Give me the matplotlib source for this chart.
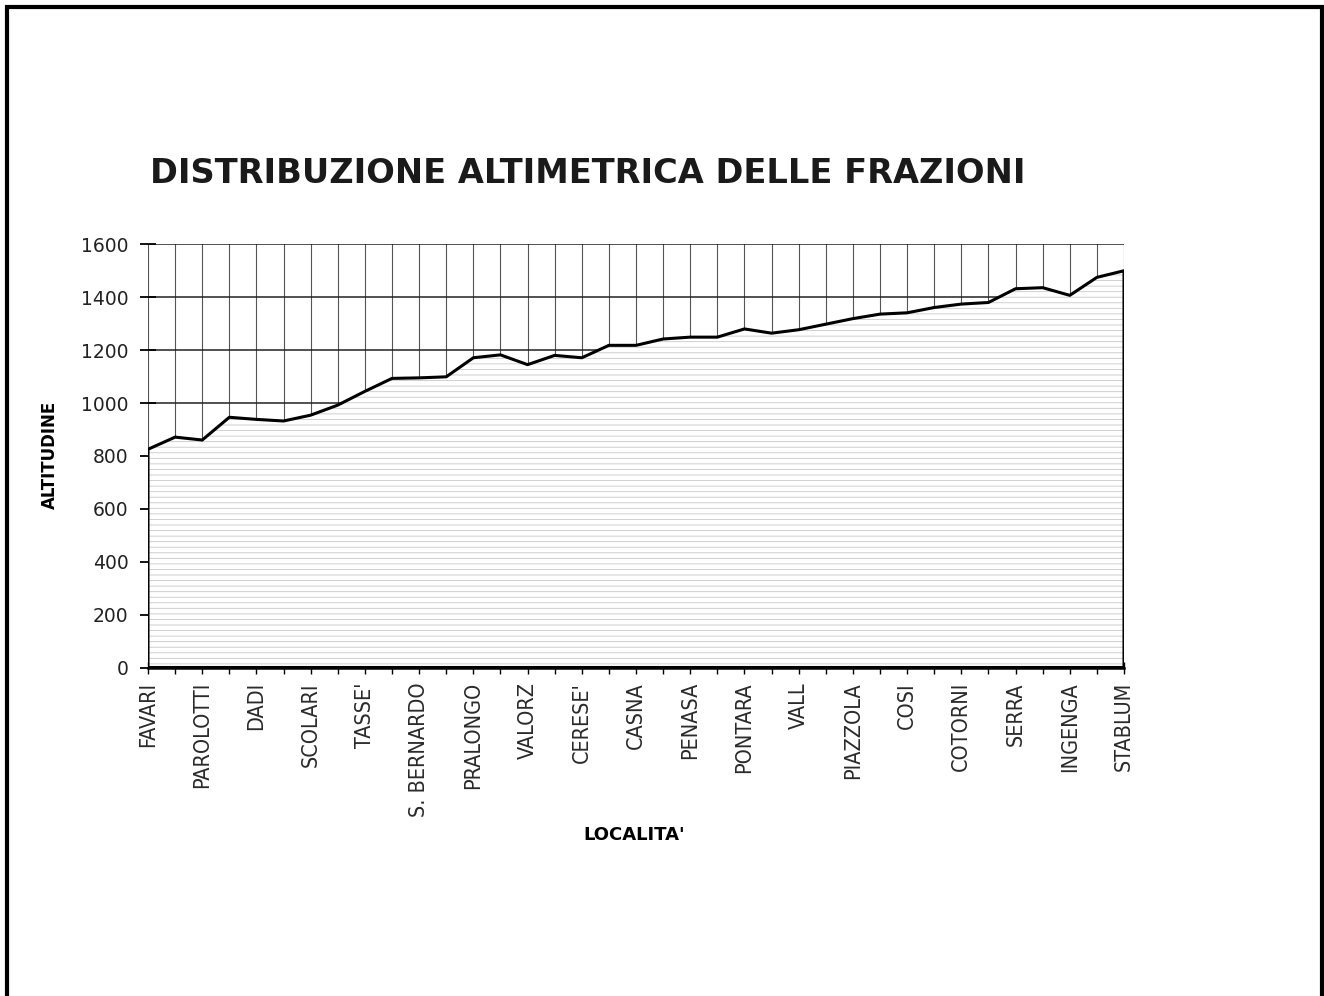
import numpy as np
import matplotlib.pyplot as plt
from matplotlib.patches import Rectangle

plt.rcParams['font.family'] = ['DejaVu Sans']
plt.rcParams['hatch.linewidth'] = 0.6

# localita' (solo quelle etichettate nel grafico, le altre senza nome)
localita = ['FAVARI', '', 'PAROLOTTI', '', 'DADI', '', 'SCOLARI', '', "TASSE'", '',
            'S. BERNARDO', '', 'PRALONGO', '', 'VALORZ', '', "CERESE'", '', 'CASNA', '',
            'PENASA', '', 'PONTARA', '', 'VALL', '', 'PIAZZOLA', '', 'COSI', '',
            'COTORNI', '', 'SERRA', '', 'INGENGA', '', 'STABLUM']

# altitudine (m)
altitudine = [825, 871, 860, 946, 938, 932, 954, 992, 1044, 1093,
              1095, 1099, 1171, 1182, 1145, 1180, 1171, 1218, 1218, 1242,
              1249, 1249, 1280, 1264, 1277, 1298, 1319, 1336, 1341, 1361,
              1374, 1380, 1432, 1436, 1407, 1475, 1500]

y_ticks = [0, 200, 400, 600, 800, 1000, 1200, 1400, 1600]

x = np.arange(len(altitudine))

fig = plt.figure(figsize=(13.24, 9.96), dpi=100)
ax = fig.add_axes([148 / 1324, 1 - 667.5 / 996, 976 / 1324, 423.2 / 996])

# griglia
for xi in x:
    ax.axvline(xi, color='#555555', lw=0.8, zorder=1)
for yt in y_ticks[1:]:
    ax.axhline(yt, color='#222222', lw=1.1, zorder=1)

# area con tratteggio orizzontale leggero
ax.fill_between(x, 0, altitudine, facecolor='white', edgecolor='#c8c8c8',
                hatch='---', linewidth=0, zorder=2)
ax.fill_between(x, 0, altitudine, facecolor='none', edgecolor='black',
                linewidth=2.2, zorder=3)

ax.set_xlim(0, len(altitudine) - 1)
ax.set_ylim(0, 1600)
for s in ['top', 'right', 'left']:
    ax.spines[s].set_visible(False)
ax.spines['bottom'].set_linewidth(1.8)

ax.set_yticks(y_ticks)
ax.set_yticklabels([str(v) for v in y_ticks], fontsize=13.5, color='#222222')
ax.tick_params(axis='y', direction='inout', length=12, width=1.3, pad=8)
ax.set_xticks(x)
ax.set_xticklabels(localita, rotation=90, fontsize=15.5, va='top', color='#2a2a2a',
                   fontstretch='condensed')
ax.tick_params(axis='x', direction='inout', length=9, width=1, pad=6)

fig.text(150 / 1324, 1 - 183 / 996, 'DISTRIBUZIONE ALTIMETRICA DELLE FRAZIONI',
         fontweight='bold', fontsize=24.2, color='#1a1a1a',
         ha='left', va='baseline')
fig.text(50 / 1324, 1 - 455 / 996, 'ALTITUDINE',
         fontweight='bold', fontsize=12, rotation=90, ha='center', va='center')
fig.text(634 / 1324, 1 - 835 / 996, "LOCALITA'",
         fontweight='bold', fontsize=13, ha='center', va='center')

# cornice della pagina
fig.patches.append(Rectangle((6.5 / 1324, -0.01), (1322 - 6.5) / 1324, 1 - 6.5 / 996 + 0.01,
                             transform=fig.transFigure, fill=False, edgecolor='black',
                             linewidth=3))

fig.savefig('out.png', dpi=100)
